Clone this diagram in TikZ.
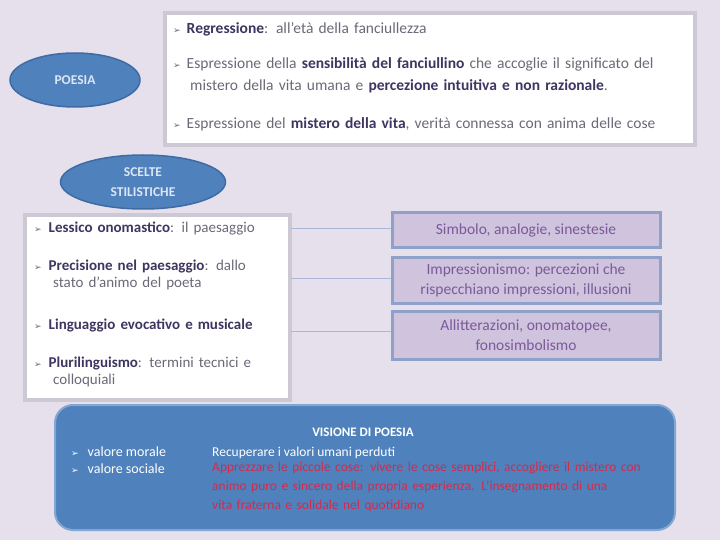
\documentclass[tikz,border=0pt]{standalone}
\usepackage{fontspec}
\setmainfont{Carlito}
\newfontfamily\symfont{DejaVu Sans}
\usetikzlibrary{shapes.geometric,positioning}

\newcommand{\punto}[1]{{\symfont\color{#1}\fontsize{9}{9}\selectfont ➢}}

\begin{document}
\begin{tikzpicture}[x=1pt,y=-1pt,
  ovale/.style={ellipse,draw=ovalborder,line width=1.5pt,fill=ovalblue,
    text=ovaltext,font=\bfseries\fontsize{13.5}{20}\selectfont,align=center},
  riquadro/.style={draw=boxgray,line width=3.5pt,fill=white},
  voce/.style={anchor=north west,inner sep=0pt,align=left,text=textgray},
  destra/.style={draw=rightborder,line width=3pt,fill=rightfill,text=rightText,
    minimum width=268pt,align=center,font=\fontsize{15.5}{20}\selectfont},
  linea/.style={draw=linecol,line width=0.8pt}]

\definecolor{bg}{HTML}{E5E0EB}
\definecolor{ovalblue}{HTML}{4F81BD}
\definecolor{ovalborder}{HTML}{3F6BA5}
\definecolor{ovaltext}{HTML}{DCE6F4}
\definecolor{boxgray}{HTML}{CDC9D4}
\definecolor{textgray}{HTML}{6A6A78}
\definecolor{boldcol}{HTML}{3F3560}
\definecolor{rightborder}{HTML}{8FA1C8}
\definecolor{rightfill}{HTML}{CFC3DE}
\definecolor{rightText}{HTML}{7A5A9A}
\definecolor{linecol}{HTML}{A9B8D8}
\definecolor{rossoT}{HTML}{D42A4A}

\fill[bg] (0,0) rectangle (720,540);
\useasboundingbox (0,0) rectangle (720,540);

% poesia
\node[ovale,minimum width=130pt,minimum height=54pt] (poesia) at (75,80) {POESIA};

\draw[riquadro] (165,13) rectangle (695,145);
\begin{scope}[every node/.style={voce,text width=510pt,font=\fontsize{15.5}{22}\selectfont}]
\node (p1) at (173,22) {\punto{textgray}\hspace{6pt}\textcolor{boldcol}{\textbf{Regressione}}: all'età della fanciullezza};
\node (p2) at (173,57) {\punto{textgray}\hspace{6pt}Espressione della \textcolor{boldcol}{\textbf{sensibilità del fanciullino}} che accoglie il significato del\\
  \hspace{17pt}mistero della vita umana e \textcolor{boldcol}{\textbf{percezione intuitiva e non razionale}}.};
\node (p3) at (173,117) {\punto{textgray}\hspace{6pt}Espressione del \textcolor{boldcol}{\textbf{mistero della vita}}, verità connessa con anima delle cose};
\end{scope}

% scelte stilistiche
\node[ovale,minimum width=165pt,minimum height=54pt] (scelte) at (143,182) {SCELTE\\STILISTICHE};

\draw[riquadro] (25,215) rectangle (290,400);
\begin{scope}[every node/.style={voce,text width=250pt,font=\fontsize{15}{17}\selectfont}]
\node (s1) at (34,222) {\punto{textgray}\hspace{7pt}\textcolor{boldcol}{\textbf{Lessico onomastico}}: il paesaggio};
\node (s2) at (34,260) {\punto{textgray}\hspace{7pt}\textcolor{boldcol}{\textbf{Precisione nel paesaggio}}: dallo\\
  \hspace{19pt}stato d'animo del poeta};
\node (s3) at (34,319) {\punto{textgray}\hspace{7pt}\textcolor{boldcol}{\textbf{Linguaggio evocativo e musicale}}};
\node (s4) at (34,357) {\punto{textgray}\hspace{7pt}\textcolor{boldcol}{\textbf{Plurilinguismo}}: termini tecnici e\\
  \hspace{19pt}colloquiali};
\end{scope}

\node[destra,minimum height=34pt] (simbolo) at (526,230) {Simbolo, analogie, sinestesie};
\node[destra,minimum height=46pt] (impress) at (526,280) {Impressionismo: percezioni che\\rispecchiano impressioni, illusioni};
\node[destra,minimum height=48pt] (suono) at (526,335) {Allitterazioni, onomatopee,\\fonosimbolismo};

\coordinate (c1) at (291,228);
\coordinate (c2) at (291,278);
\coordinate (c3) at (291,331);
\draw[linea] (c1) -- (c1 -| simbolo.west);
\draw[linea] (c2) -- (c2 -| impress.west);
\draw[linea] (c3) -- (c3 -| suono.west);

% visione di poesia
\node[draw=ovalblue!70!white,line width=2pt,fill=ovalblue,rounded corners=18pt,
  minimum width=620pt,minimum height=125pt] (visione) at (365,467.5) {};
\begin{scope}[every node/.style={inner sep=0pt,anchor=base west,text=white,font=\fontsize{14}{16}\selectfont}]
\node[anchor=base,font=\bfseries\fontsize{13}{16}\selectfont] (titolo) at (363,436) {VISIONE DI POESIA};
\node (m) at (71,456) {\punto{white}\hspace{9pt}valore morale};
\node (s) at (71,473) {\punto{white}\hspace{9pt}valore sociale};
\node[font=\fontsize{13.5}{16}\selectfont] (r1) at (212,456) {Recuperare i valori umani perduti};
\node[text=rossoT,text width=450pt,anchor=north west,align=left,font=\fontsize{13.5}{19}\selectfont] (r2) at (212,462)
  {Apprezzare le piccole cose: vivere le cose semplici, accogliere il mistero con\\
   animo puro e sincero della propria esperienza. L'insegnamento di una\\
   vita fraterna e solidale nel quotidiano};
\end{scope}

\end{tikzpicture}
\end{document}
